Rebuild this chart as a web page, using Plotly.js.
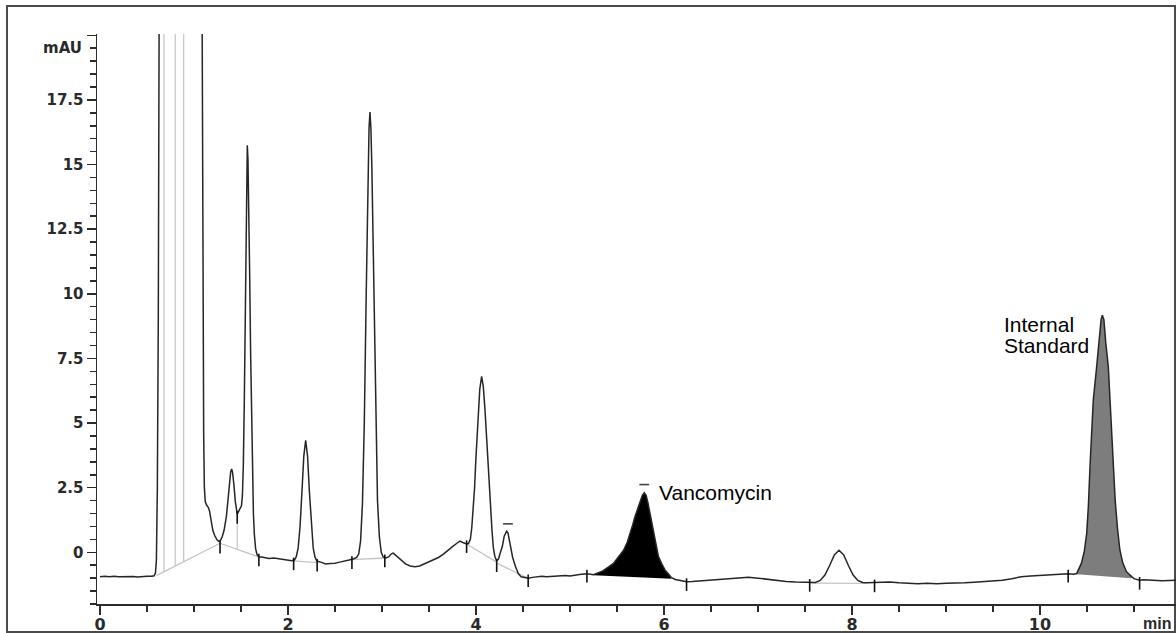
<!DOCTYPE html>
<html>
<head>
<meta charset="utf-8">
<script src="https://cdn.plot.ly/plotly-3.0.1.min.js"></script>
<style>
  html, body { margin: 0; padding: 0; background: #ffffff; }
  #chart { width: 1176px; height: 633px; }
</style>
</head>
<body>
<div id="chart"></div>
<script>
// ---------------- data ----------------
// retention time (min)
const timeMin = [
  0.00, 0.05, 0.10, 0.15, 0.20, 0.25, 0.30, 0.35, 0.40, 0.45, 0.50, 0.55, 0.575, 0.59, 0.60, 0.61, 0.62, 0.63, 0.64,
  0.70, 0.80, 0.90, 1.00, 1.07, 1.085, 1.095, 1.103, 1.11, 1.12, 1.135, 1.15, 1.165, 1.18, 1.20, 1.22, 1.245, 1.265,
  1.28, 1.30, 1.32, 1.345, 1.365, 1.38, 1.39, 1.40, 1.41, 1.425, 1.44, 1.46, 1.475, 1.49, 1.505, 1.515, 1.525, 1.535,
  1.545, 1.555, 1.562, 1.567, 1.574, 1.582, 1.592, 1.602, 1.612, 1.622, 1.632, 1.642, 1.655, 1.67, 1.69, 1.72, 1.76,
  1.80, 1.85, 1.90, 1.95, 2.00, 2.04, 2.068, 2.088, 2.108, 2.128, 2.148, 2.168, 2.188, 2.208, 2.228, 2.248, 2.268,
  2.288, 2.31, 2.35, 2.40, 2.45, 2.50, 2.55, 2.60, 2.65, 2.70, 2.73, 2.752, 2.772, 2.792, 2.812, 2.832, 2.852, 2.862,
  2.872, 2.882, 2.892, 2.912, 2.932, 2.952, 2.972, 2.992, 3.012, 3.04, 3.07, 3.10, 3.12, 3.15, 3.20, 3.25, 3.30, 3.35,
  3.40, 3.45, 3.50, 3.55, 3.60, 3.65, 3.70, 3.75, 3.80, 3.83, 3.86, 3.90, 3.92, 3.94, 3.955, 3.97, 3.985, 3.998, 4.012,
  4.025, 4.04, 4.06, 4.078, 4.096, 4.11, 4.124, 4.14, 4.156, 4.17, 4.184, 4.20, 4.22, 4.24, 4.26, 4.28, 4.30, 4.315,
  4.326, 4.34, 4.355, 4.37, 4.39, 4.42, 4.45, 4.48, 4.52, 4.56, 4.60, 4.65, 4.70, 4.75, 4.80, 4.85, 4.90, 4.95, 5.00,
  5.05, 5.10, 5.15, 5.20, 5.25, 5.35, 5.46, 5.52, 5.57, 5.61, 5.64, 5.67, 5.69, 5.72, 5.745, 5.77, 5.79, 5.81, 5.83,
  5.85, 5.87, 5.89, 5.915, 5.94, 5.975, 6.01, 6.05, 6.08, 6.12, 6.18, 6.24, 6.30, 6.40, 6.50, 6.60, 6.70, 6.80, 6.90,
  7.00, 7.10, 7.20, 7.30, 7.40, 7.50, 7.56, 7.61, 7.662, 7.712, 7.762, 7.812, 7.862, 7.912, 7.962, 8.012, 8.062, 8.112,
  8.16, 8.24, 8.30, 8.40, 8.50, 8.60, 8.70, 8.80, 8.90, 9.00, 9.10, 9.20, 9.30, 9.40, 9.50, 9.60, 9.70, 9.80, 9.90,
  10.00, 10.10, 10.20, 10.30, 10.36, 10.39, 10.44, 10.47, 10.497, 10.515, 10.532, 10.55, 10.567, 10.603, 10.63, 10.65,
  10.663, 10.68, 10.70, 10.727, 10.745, 10.763, 10.78, 10.80, 10.825, 10.85, 10.88, 10.92, 10.975, 11.00, 11.06, 11.10,
  11.20, 11.30, 11.45
];
// absorbance (mAU)
const absorbance = [
  -0.95, -0.93, -0.95, -0.93, -0.95, -0.94, -0.95, -0.94, -0.96, -0.94, -0.93, -0.93, -0.91, -0.80, -0.30, 2.5, 9, 22, 40,
  40, 40, 40, 40, 40, 22, 10, 4.5, 2.5, 1.95, 1.82, 1.75, 1.60, 1.20, 0.85, 0.65, 0.48, 0.42,
  0.45, 0.60, 0.85, 1.40, 2.20, 2.80, 3.10, 3.22, 3.10, 2.60, 1.95, 1.48, 1.58, 1.72, 1.80, 2.20, 3.40, 5.80,
  9.50, 13.4, 15.2, 15.75, 15.2, 13.6, 10.8, 7.8, 5.0, 2.9, 1.5, 0.7, 0.15, -0.08, -0.18, -0.18, -0.20,
  -0.24, -0.22, -0.25, -0.28, -0.30, -0.33, -0.30, -0.17, 0.17, 0.99, 2.32, 3.72, 4.33, 3.72, 2.32, 0.99, 0.17,
  -0.20, -0.35, -0.38, -0.45, -0.43, -0.42, -0.38, -0.35, -0.30, -0.25, -0.20, -0.07, 0.43, 1.88, 5.06, 9.96, 14.93, 16.4,
  17.03, 16.4, 14.93, 9.96, 5.2, 2.0, 0.6, 0.0, -0.18, -0.22, -0.18, -0.06, -0.03, -0.12, -0.30, -0.45, -0.53, -0.56,
  -0.53, -0.45, -0.35, -0.27, -0.20, -0.08, 0.08, 0.22, 0.36, 0.43, 0.38, 0.32, 0.34, 0.50, 0.95, 1.63, 2.50, 3.56, 4.60,
  5.50, 6.30, 6.81, 6.40, 5.50, 4.60, 3.56, 2.50, 1.63, 0.85, 0.20, -0.15, -0.33, -0.25, 0.00, 0.22, 0.62, 0.78,
  0.82, 0.75, 0.50, 0.20, -0.20, -0.55, -0.82, -0.95, -0.98, -1.00, -0.97, -0.95, -0.93, -0.95, -0.94, -0.92, -0.93, -0.90, -0.92,
  -0.88, -0.86, -0.84, -0.84, -0.87, -0.72, -0.44, -0.18, 0.08, 0.40, 0.72, 1.10, 1.37, 1.70, 1.95, 2.20, 2.30, 2.20, 1.90,
  1.50, 1.12, 0.70, 0.21, -0.15, -0.44, -0.68, -0.85, -0.98, -1.05, -1.10, -1.14, -1.13, -1.10, -1.08, -1.05, -1.02, -0.98, -0.97,
  -1.00, -1.05, -1.10, -1.13, -1.15, -1.17, -1.18, -1.17, -1.09, -0.88, -0.51, -0.10, 0.08, -0.10, -0.51, -0.88, -1.09, -1.17,
  -1.18, -1.17, -1.17, -1.15, -1.18, -1.20, -1.22, -1.20, -1.22, -1.20, -1.20, -1.18, -1.16, -1.14, -1.12, -1.08, -1.02, -0.95, -0.92,
  -0.90, -0.88, -0.86, -0.83, -0.85, -0.82, -0.43, 0.00, 0.73, 1.80, 3.31, 4.60, 5.89, 7.18, 8.40, 9.00,
  9.17, 9.00, 8.10, 7.18, 5.90, 4.60, 3.20, 2.02, 0.90, 0.09, -0.40, -0.75, -0.94, -1.02, -1.08, -1.06,
  -1.08, -1.10, -1.08
];

// integration baselines (light grey segments): start/end time and level
const baseStartT = [0.60, 1.277, 2.06, 2.68, 3.90, 4.22, 7.56];
const baseStartV = [-0.90, 0.35, -0.33, -0.28, 0.32, -0.42, -1.19];
const baseEndT   = [1.277, 1.69, 2.31, 3.03, 4.22, 4.55, 8.16];
const baseEndV   = [0.35, -0.18, -0.40, -0.22, -0.38, -1.00, -1.20];

// peak drop lines (light grey verticals)
const dropT      = [0.68, 0.80, 0.89, 1.46];
const dropBottom = [-0.75, -0.53, -0.36, 0.11];
const dropTop    = [40, 40, 40, 1.48];

// integration event marks (short black ticks on the trace)
const eventT = [1.277, 1.46, 1.69, 2.06, 2.31, 2.68, 3.03, 3.90, 4.22, 4.555, 5.18, 6.24, 7.55, 8.24, 10.30, 11.06];
const eventV = [0.20, 1.35, -0.30, -0.45, -0.50, -0.40, -0.33, 0.22, -0.52, -1.10, -0.92, -1.25, -1.28, -1.30, -0.92, -1.20];

// small retention-time marks above peaks
const peakMarkT = [4.34, 5.79];
const peakMarkV = [1.10, 2.62];

// shaded peaks: time window and baseline level at each end
const shadedPeaks    = ["Vancomycin", "Internal Standard"];
const shadeStartT    = [5.25, 10.39];
const shadeEndT      = [6.08, 10.975];
const shadeBaseStart = [-0.89, -0.85];
const shadeBaseEnd   = [-1.02, -1.00];

// axis ticks
const xTickVals = [0, 2, 4, 6, 8, 10];
const xTickText = ["0", "2", "4", "6", "8", "10"];
const yTickVals = [0, 2.5, 5, 7.5, 10, 12.5, 15, 17.5, 20];
const yTickText = ["0", "2.5", "5", "7.5", "10", "12.5", "15", "17.5", ""];

// ---------------- traces ----------------
const fillColors = ["#000000", "#7d7d7d"];
const traces = [];

shadedPeaks.forEach((name, k) => {
  const xs = [], ys = [];
  timeMin.forEach((t, i) => {
    if (t >= shadeStartT[k] && t <= shadeEndT[k]) { xs.push(t); ys.push(absorbance[i]); }
  });
  xs.push(shadeEndT[k], shadeStartT[k]);
  ys.push(shadeBaseEnd[k], shadeBaseStart[k]);
  traces.push({
    x: xs, y: ys, type: "scatter", mode: "lines", fill: "toself",
    fillcolor: fillColors[k], line: { width: 0, color: fillColors[k] },
    hoverinfo: "skip", name: name
  });
});

const bx = [], by = [];
baseStartT.forEach((t, i) => {
  bx.push(t, baseEndT[i], null);
  by.push(baseStartV[i], baseEndV[i], null);
});
traces.push({ x: bx, y: by, type: "scatter", mode: "lines",
  line: { color: "#c4c4c4", width: 1.3 }, hoverinfo: "skip" });

const dx = [], dy = [];
dropT.forEach((t, i) => {
  dx.push(t, t, null);
  dy.push(dropBottom[i], dropTop[i], null);
});
traces.push({ x: dx, y: dy, type: "scatter", mode: "lines",
  line: { color: "#c8c8c8", width: 1.3 }, hoverinfo: "skip" });

traces.push({ x: timeMin, y: absorbance, type: "scatter", mode: "lines",
  line: { color: "#262626", width: 1.5 }, hoverinfo: "skip", name: "signal" });

traces.push({ x: eventT, y: eventV, type: "scatter", mode: "markers",
  marker: { symbol: "line-ns", size: 9, line: { color: "#111111", width: 1.6 } }, hoverinfo: "skip" });

traces.push({ x: peakMarkT, y: peakMarkV, type: "scatter", mode: "markers",
  marker: { symbol: "line-ew", size: 7, line: { color: "#444444", width: 1.6 } }, hoverinfo: "skip" });

// ---------------- layout ----------------
const W = 1176, H = 633, L = 97, R = 0, T = 34, B = 29;
const pw = W - L - R, ph = H - T - B;
const px = v => (v - L) / pw;          // pixel -> paper x
const py = v => (H - B - v) / ph;      // pixel -> paper y

const axisFont = { family: "DejaVu Sans, Verdana, sans-serif", size: 15, color: "#2a2a2a", weight: "bold" };
const labelFont = { family: "Liberation Sans, Arial, sans-serif", size: 21, color: "#000000" };

const layout = {
  width: W, height: H,
  margin: { l: L, r: R, t: T, b: B, pad: 0 },
  paper_bgcolor: "#ffffff", plot_bgcolor: "#ffffff",
  showlegend: false, hovermode: false,
  xaxis: {
    range: [-0.032, 11.447], showgrid: false, zeroline: false,
    showline: true, linecolor: "#2b2b2b", linewidth: 1.5,
    ticks: "outside", ticklen: 9, tickwidth: 1.5, tickcolor: "#2b2b2b",
    tickmode: "array", tickvals: xTickVals, ticktext: xTickText,
    ticklabelstandoff: -4,
    tickfont: { family: axisFont.family, size: 16, color: axisFont.color, weight: "bold" },
    minor: { tickmode: "linear", tick0: 0, dtick: 0.5, ticks: "outside", ticklen: 6, tickwidth: 1.5, tickcolor: "#2b2b2b", showgrid: false }
  },
  yaxis: {
    range: [-2.0, 20.05], showgrid: false, zeroline: false,
    showline: true, linecolor: "#2b2b2b", linewidth: 1.5,
    ticks: "outside", ticklen: 9, tickwidth: 1.5, tickcolor: "#2b2b2b",
    tickmode: "array", tickvals: yTickVals, ticktext: yTickText,
    tickfont: axisFont,
    minor: { tickmode: "linear", tick0: 0, dtick: 0.5, ticks: "outside", ticklen: 6, tickwidth: 1.5, tickcolor: "#2b2b2b", showgrid: false }
  },
  annotations: [
    { text: "mAU", xref: "paper", yref: "y", x: px(84), y: 19.5, xanchor: "right", yanchor: "middle",
      showarrow: false, font: axisFont },
    { text: "min", xref: "paper", yref: "paper", x: px(1173), y: py(623), xanchor: "right", yanchor: "middle",
      showarrow: false, font: { family: "Liberation Sans, Arial, sans-serif", size: 16, color: axisFont.color, weight: "bold" } },
    { text: "Vancomycin", xref: "x", yref: "y", x: 5.925, y: 2.31, xanchor: "left", yanchor: "middle",
      showarrow: false, font: labelFont },
    { text: "Internal", xref: "x", yref: "y", x: 9.60, y: 8.80, xanchor: "left", yanchor: "middle",
      showarrow: false, font: labelFont },
    { text: "Standard", xref: "x", yref: "y", x: 9.60, y: 8.0, xanchor: "left", yanchor: "middle",
      showarrow: false, font: labelFont }
  ],
  shapes: [
    { type: "rect", xref: "paper", yref: "paper", x0: px(7), x1: px(1175), y0: py(632), y1: py(6),
      line: { color: "#4a4a4a", width: 2 }, fillcolor: "rgba(0,0,0,0)", layer: "below" }
  ]
};

Plotly.newPlot("chart", traces, layout, { staticPlot: true, displayModeBar: false });
</script>
</body>
</html>
